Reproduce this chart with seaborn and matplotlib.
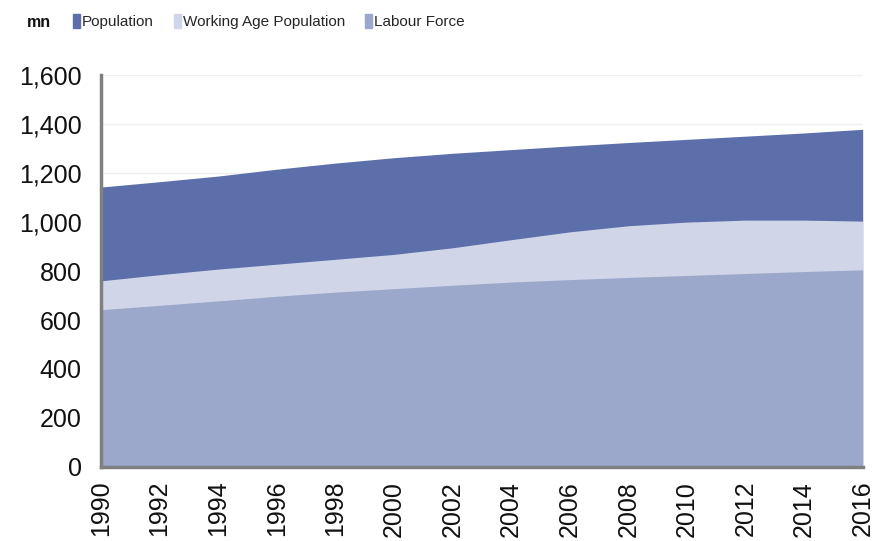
import matplotlib
matplotlib.use('Agg')
import matplotlib.pyplot as plt
import matplotlib.patches as mpatches
import seaborn as sns
import pandas as pd

# values (mn)
years = [1990, 1992, 1994, 1996, 1998, 2000, 2002, 2004, 2006, 2008, 2010, 2012, 2014, 2016]
population = [1143, 1165, 1188, 1216, 1241, 1263, 1281, 1296, 1311, 1325, 1338, 1351, 1364, 1379]
working_age = [760, 785, 808, 828, 848, 868, 895, 928, 960, 985, 1000, 1008, 1008, 1004]
labour_force = [642, 660, 678, 697, 714, 728, 742, 755, 765, 774, 782, 790, 798, 805]

series_names = ["Population", "Working Age Population", "Labour Force"]
colors = ["#5c6faa", "#d0d6e8", "#9ba8cc"]

df = pd.DataFrame({"year": years, "Population": population,
                   "Working Age Population": working_age,
                   "Labour Force": labour_force})

sns.set_theme(style="white")
plt.rcParams['font.family'] = ['Liberation Sans', 'DejaVu Sans']

fig = plt.figure(figsize=(8.83, 5.41), dpi=100)
ax = fig.add_axes([0.1144, 0.137, 0.8626, 0.724])

# overlapping areas, biggest first
for name, col in zip(series_names, colors):
    ax.fill_between(df["year"], 0, df[name], color=col, linewidth=0, zorder=2)

ax.set_xlim(1990, 2016)
ax.set_ylim(0, 1600)
ax.set_xticks(range(1990, 2017, 2))
ax.set_yticks(range(0, 1601, 200))
ax.set_yticklabels([f"{v:,}" for v in range(0, 1601, 200)])
ax.tick_params(axis='x', labelrotation=90)
ax.tick_params(axis='both', labelsize=18, colors="#808080", labelcolor="#111111",
               length=5, width=1.5, direction='out')
ax.tick_params(axis='y', pad=9)
ax.tick_params(axis='x', pad=5)
ax.yaxis.grid(True, color="#eeeeee", linewidth=1, zorder=0)
ax.set_axisbelow(True)

for side in ["top", "right"]:
    ax.spines[side].set_visible(False)
for side in ["left", "bottom"]:
    ax.spines[side].set_color("#808080")
    ax.spines[side].set_linewidth(2.5)
    ax.spines[side].set_zorder(3)

fig.text(0.031, 0.958, "mn", fontsize=11.5, fontweight='bold', color="#111111",
         va='center', ha='left')

handles = [mpatches.Patch(color=c, label=n) for n, c in zip(series_names, colors)]
fig.legend(handles=handles, loc='center left', bbox_to_anchor=(0.067, 0.96),
           ncol=3, frameon=False, handlelength=0.45, handleheight=1.0,
           handletextpad=0.15, columnspacing=1.3,
           prop={'size': 11})

fig.savefig("out.png", dpi=100)
